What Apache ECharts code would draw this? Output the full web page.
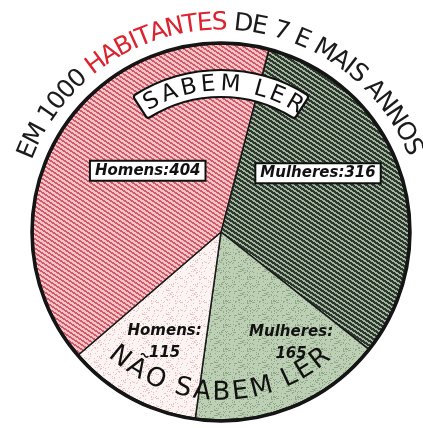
<!DOCTYPE html>
<html>
<head>
<meta charset="utf-8">
<script src="https://cdn.jsdelivr.net/npm/echarts@6/dist/echarts.min.js"></script>
<style>html,body{margin:0;background:#fff}#chart{width:423px;height:428px}</style>
</head>
<body>
<div id="chart"></div>
<script>
// em 1000 habitantes de 7 e mais annos
const sexos = ['Mulheres', 'Mulheres', 'Homens', 'Homens'];
const leitura = ['SABEM LER', 'NÃO SABEM LER', 'NÃO SABEM LER', 'SABEM LER'];
const porMil = [316, 165, 115, 404];
const tituloPartes = ['EM 1000 ', 'HABITANTES', ' DE 7 E MAIS ANNOS'];
const tituloCores = ['#1b1b1b', '#dc2430', '#1b1b1b'];
const rotuloSabem = 'SABEM LER';
const rotuloNaoSabem = 'NÃO SABEM LER';

const CX = 221, CY = 232, R = 188;
const rad = d => d * Math.PI / 180;

// textura tracejada
function hatch(bg, fg, p, w) {
    const c = document.createElement('canvas');
    c.width = p; c.height = p;
    const ctx = c.getContext('2d');
    ctx.fillStyle = bg; ctx.fillRect(0, 0, p, p);
    ctx.fillStyle = fg;
    for (let y = 0; y < p; y++)
        for (let x = 0; x < p; x++) {
            const d = (((3 * y - 2 * x) % p) + p) % p;
            if (d < w) ctx.fillRect(x, y, 1, 1);
        }
    return { image: c, repeat: 'repeat' };
}

// textura pontilhada
function stipple(bg, fg, n, limit) {
    const c = document.createElement('canvas');
    c.width = n; c.height = n;
    const ctx = c.getContext('2d');
    ctx.fillStyle = bg; ctx.fillRect(0, 0, n, n);
    ctx.fillStyle = fg;
    for (let y = 0; y < n; y++)
        for (let x = 0; x < n; x++) {
            const h = Math.sin(x * 12.9898 + y * 78.233) * 43758.5453;
            if (h - Math.floor(h) < limit) ctx.fillRect(x, y, 1, 1);
        }
    return { image: c, repeat: 'repeat' };
}

const fills = [
    hatch('#a3b3a0', '#2b392d', 14, 8),
    stipple('#bdcfb5', '#8fa888', 24, 0.18),
    stipple('#fbf4f2', '#e6c4c4', 24, 0.12),
    hatch('#f2c4c6', '#d25a6a', 14, 6)
];

// deslocamento dos rotulos
const labelShift = [[5, -28], [34, 21], [-10, 25], [9, -10]];

const measureCtx = document.createElement('canvas').getContext('2d');

// letras em arco
function arcText(chars, colors, font, radius, a0, a1, bottom) {
    measureCtx.font = font;
    const widths = chars.map(ch => measureCtx.measureText(ch).width);
    const pos = [];
    let acc = 0;
    widths.forEach(w => { pos.push(acc + w / 2); acc += w; });
    const first = pos[0], last = pos[pos.length - 1];
    const els = [];
    chars.forEach((ch, i) => {
        if (ch === ' ') return;
        const t = a0 + (pos[i] - first) / (last - first) * (a1 - a0);
        els.push({
            type: 'text',
            x: CX + radius * Math.sin(rad(t)),
            y: CY - radius * Math.cos(rad(t)),
            rotation: bottom ? rad(180 - t) : rad(-t),
            z: 100,
            silent: true,
            style: {
                text: ch, fill: colors[i], font: font,
                align: 'center', verticalAlign: 'middle',
                textAlign: 'center', textVerticalAlign: 'middle'
            }
        });
    });
    return els;
}

const tituloChars = [], tituloCharCores = [];
tituloPartes.forEach((p, k) => {
    for (const ch of p) { tituloChars.push(ch); tituloCharCores.push(tituloCores[k]); }
});

const sabemChars = Array.from(rotuloSabem);
const naoChars = Array.from(rotuloNaoSabem);

const graphics = [].concat(
    [{
        type: 'circle', z: 60, silent: true,
        shape: { cx: CX, cy: CY, r: R + 1 },
        style: { fill: 'none', stroke: '#151515', lineWidth: 3.5 }
    }, {
        type: 'sector', z: 80, silent: true,
        shape: { cx: CX, cy: CY, r0: 135, r: 162, startAngle: rad(-33 - 90), endAngle: rad(33 - 90), clockwise: true, cornerRadius: 3 },
        style: { fill: '#fff', stroke: '#111', lineWidth: 2.2 }
    }],
    arcText(tituloChars, tituloCharCores, '25px "DejaVu Sans"', 209, -67, 66, false),
    arcText(sabemChars, sabemChars.map(() => '#111'), '23px "DejaVu Sans"', 147.5, -28, 30, false),
    arcText(naoChars, naoChars.map(() => '#111'), '26px "DejaVu Sans"', 161, 219, 142, true)
);

const baseFont = {
    fontFamily: 'DejaVu Sans', fontStyle: 'italic', fontWeight: 'bold',
    fontSize: 15, color: '#111'
};

const chart = echarts.init(document.getElementById('chart'));
chart.setOption({
    animation: false,
    backgroundColor: '#fff',
    graphic: graphics,
    series: [{
        type: 'pie',
        center: [CX, CY],
        radius: [0, R],
        startAngle: 75.3,
        clockwise: true,
        silent: true,
        labelLine: { show: false },
        itemStyle: { borderColor: '#1a1a1a', borderWidth: 1.5 },
        labelLayout: function (p) {
            return { dx: labelShift[p.dataIndex][0], dy: labelShift[p.dataIndex][1] };
        },
        data: porMil.map(function (v, i) {
            const top = leitura[i] === rotuloSabem;
            return {
                name: sexos[i],
                value: v,
                itemStyle: { color: fills[i] },
                label: Object.assign({
                    show: true,
                    position: 'inside',
                    formatter: top ? '{b}:{c}' : '{b}:\n{c}'
                }, baseFont, top ? {
                    backgroundColor: '#fff', borderColor: '#111', borderWidth: 2,
                    padding: [2, 4, 1, 4]
                } : { lineHeight: 22, align: 'center' })
            };
        })
    }]
});
</script>
</body>
</html>
